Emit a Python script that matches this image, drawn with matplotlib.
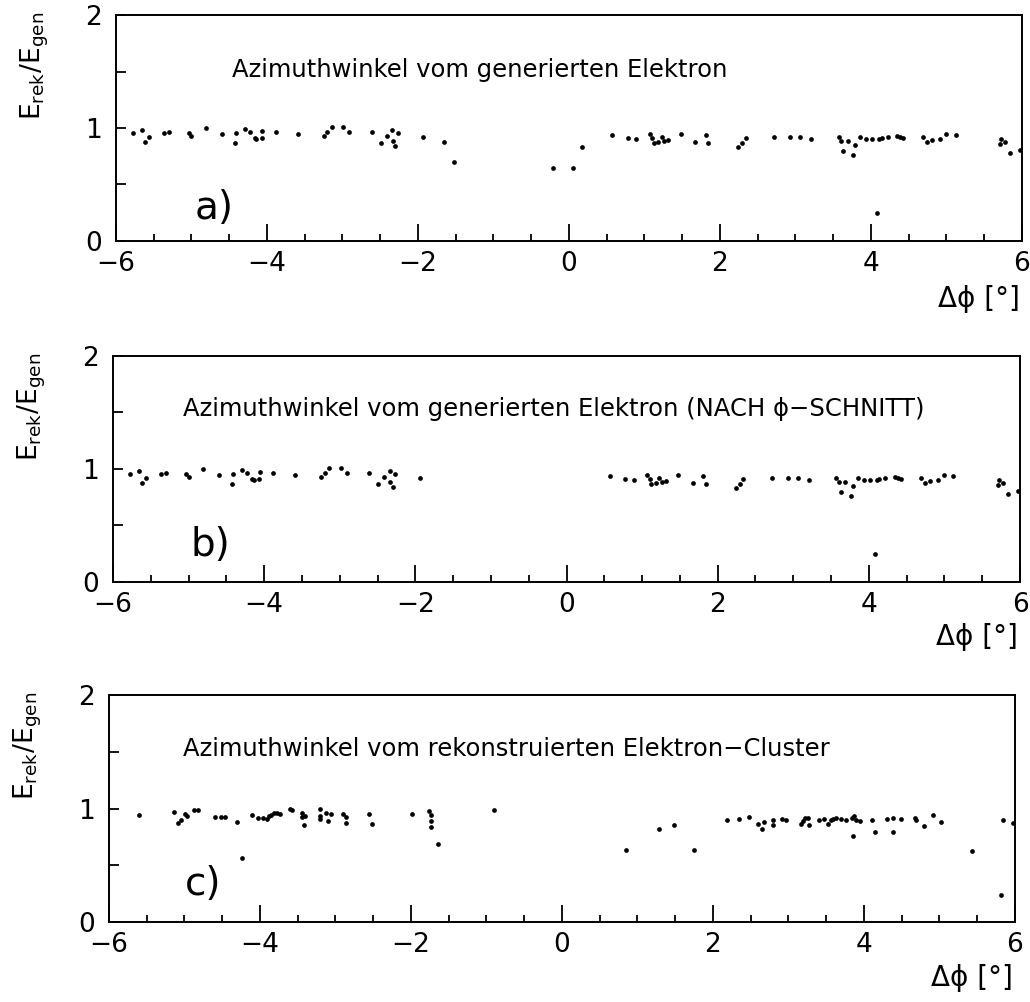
import numpy as np
import matplotlib
matplotlib.use('Agg')
import matplotlib.pyplot as plt
import matplotlib.transforms as mtransforms
from matplotlib.ticker import MultipleLocator

plt.rcParams['font.family'] = ['DejaVu Sans']

# a) azimuth of generated electron
phi_a = [-5.77, -5.66, -5.62, -5.56, -5.36, -5.30, -5.03, -5.00, -4.81, -4.60,
         -4.43, -4.41, -4.29, -4.23, -4.16, -4.14, -4.07, -4.06, -3.88, -3.59,
         -3.25, -3.20, -3.14, -2.99, -2.91, -2.61, -2.49, -2.41, -2.34, -2.33,
         -2.30, -2.27, -1.94, -1.65, -1.52, -0.21, 0.05, 0.17, 0.57, 0.78,
         0.89, 1.07, 1.10, 1.12, 1.18, 1.23, 1.26, 1.31, 1.48, 1.67,
         1.81, 1.84, 2.24, 2.29, 2.34, 2.72, 2.93, 3.06, 3.21, 3.57,
         3.60, 3.63, 3.69, 3.76, 3.79, 3.85, 3.94, 4.01, 4.08, 4.11,
         4.14, 4.22, 4.35, 4.38, 4.42, 4.69, 4.74, 4.81, 4.92, 5.00,
         5.12, 5.72, 5.71, 5.78, 5.84, 5.98]
ratio_a = [0.953, 0.982, 0.879, 0.923, 0.953, 0.967, 0.958, 0.929, 0.997, 0.947,
           0.864, 0.958, 0.988, 0.967, 0.914, 0.900, 0.909, 0.973, 0.967, 0.947,
           0.929, 0.967, 1.006, 1.012, 0.965, 0.965, 0.864, 0.929, 0.982, 0.885,
           0.841, 0.953, 0.923, 0.879, 0.696, 0.649, 0.649, 0.835, 0.938, 0.909,
           0.903, 0.947, 0.909, 0.870, 0.879, 0.923, 0.888, 0.894, 0.944, 0.879,
           0.938, 0.864, 0.829, 0.870, 0.909, 0.923, 0.923, 0.923, 0.906, 0.923,
           0.888, 0.799, 0.888, 0.761, 0.847, 0.918, 0.900, 0.900, 0.245, 0.900,
           0.912, 0.923, 0.929, 0.923, 0.912, 0.923, 0.879, 0.894, 0.903, 0.944,
           0.938, 0.903, 0.856, 0.873, 0.781, 0.805]

# b) same events after the phi cut
phi_cut_lo, phi_cut_hi = -1.9, 0.5

# c) azimuth of reconstructed electron cluster
phi_c = [-5.60, -5.14, -5.08, -5.05, -4.99, -4.96, -4.88, -4.82, -4.60, -4.52,
         -4.46, -4.31, -4.24, -4.10, -4.02, -3.96, -3.91, -3.88, -3.85, -3.81,
         -3.78, -3.74, -3.60, -3.57, -3.44, -3.41, -3.44, -3.42, -3.20, -3.21,
         -3.21, -3.13, -3.10, -3.06, -2.90, -2.86, -2.86, -2.56, -2.52, -1.99,
         -1.76, -1.74, -1.73, -1.74, -1.64, -0.90, 0.85, 1.29, 1.48, 1.75,
         2.19, 2.34, 2.48, 2.60, 2.65, 2.67, 2.80, 2.80, 2.91, 2.97,
         3.16, 3.19, 3.22, 3.26, 3.27, 3.41, 3.47, 3.53, 3.56, 3.59,
         3.63, 3.69, 3.76, 3.84, 3.87, 3.85, 3.90, 3.95, 4.10, 4.15,
         4.30, 4.38, 4.38, 4.49, 4.68, 4.69, 4.80, 4.92, 5.02, 5.43,
         5.81, 5.84, 5.97]
ratio_c = [0.946, 0.969, 0.875, 0.896, 0.955, 0.931, 0.990, 0.990, 0.925, 0.925,
           0.925, 0.881, 0.566, 0.940, 0.920, 0.920, 0.911, 0.931, 0.946, 0.960,
           0.964, 0.949, 0.993, 0.990, 0.960, 0.931, 0.925, 0.858, 0.999, 0.934,
           0.905, 0.960, 0.890, 0.955, 0.955, 0.925, 0.875, 0.955, 0.867, 0.955,
           0.978, 0.940, 0.890, 0.837, 0.690, 0.990, 0.631, 0.823, 0.858, 0.631,
           0.896, 0.911, 0.925, 0.867, 0.823, 0.881, 0.896, 0.852, 0.911, 0.902,
           0.867, 0.890, 0.920, 0.920, 0.852, 0.902, 0.911, 0.867, 0.896, 0.911,
           0.916, 0.911, 0.896, 0.920, 0.934, 0.757, 0.902, 0.887, 0.896, 0.793,
           0.911, 0.916, 0.793, 0.911, 0.920, 0.896, 0.843, 0.946, 0.881, 0.625,
           0.234, 0.896, 0.876]

titles = ['Azimuthwinkel vom generierten Elektron',
          'Azimuthwinkel vom generierten Elektron (NACH \u03d5\u2212SCHNITT)',
          'Azimuthwinkel vom rekonstruierten Elektron\u2212Cluster']
tags = ['a)', 'b)', 'c)']
xtick_vals = [-6, -4, -2, 0, 2, 4, 6]
xtick_labels = ['\u22126', '\u22124', '\u22122', '0', '2', '4', '6']

pa = np.array(phi_a)
ra = np.array(ratio_a)
keep = (pa < phi_cut_lo) | (pa > phi_cut_hi)
series = [(pa, ra), (pa[keep], ra[keep]), (np.array(phi_c), np.array(ratio_c))]

fig = plt.figure(figsize=(10.30, 10.02), dpi=100)
rects = [[0.1126, 0.7595, 0.8796, 0.2255],
         [0.1097, 0.4192, 0.8806, 0.2255],
         [0.1058, 0.0798, 0.8796, 0.2265]]
title_pos = [(0.128, 0.757), (0.077, 0.765), (0.082, 0.762)]
tag_pos = [(0.087, 0.146), (0.085, 0.164), (0.084, 0.167)]
xlab_y = [-0.255, -0.242, -0.245]

# nudge the y "0" label up a little so it clears the "-6" below it
nudge = mtransforms.ScaledTranslation(0, 5 / 72, fig.dpi_scale_trans)

for i in range(3):
    ax = fig.add_axes(rects[i])
    x, y = series[i]
    ax.plot(x, y, 'o', color='black', ms=3.4, mew=0)
    ax.set_xlim(-6, 6)
    ax.set_ylim(0, 2)
    ax.set_xticks(xtick_vals)
    ax.set_xticklabels(xtick_labels)
    ax.xaxis.set_minor_locator(MultipleLocator(0.5))
    ax.yaxis.set_major_locator(MultipleLocator(1))
    ax.yaxis.set_minor_locator(MultipleLocator(0.5))
    ax.tick_params(axis='x', which='major', direction='in', length=12, width=1.3,
                   labelsize=19, pad=7)
    ax.tick_params(axis='x', which='minor', direction='in', length=5, width=1.3)
    ax.tick_params(axis='y', which='both', direction='in', length=7, width=1.3,
                   labelsize=19, pad=10)
    fig.canvas.draw()
    lab0 = ax.get_yticklabels()[0]
    lab0.set_transform(lab0.get_transform() + nudge)
    for s in ax.spines.values():
        s.set_linewidth(1.4)
    ax.text(title_pos[i][0], title_pos[i][1], titles[i], transform=ax.transAxes,
            fontsize=17.5, va='center', ha='left')
    ax.text(tag_pos[i][0], tag_pos[i][1], tags[i], transform=ax.transAxes,
            fontsize=28, va='center', ha='left')
    ax.text(0.998, xlab_y[i], '\u0394\u03d5 [\u00b0]', transform=ax.transAxes,
            fontsize=20, va='center', ha='right')
    ax.text(-0.089, 0.775, r'$\mathregular{E_{rek}/E_{gen}}$', transform=ax.transAxes,
            fontsize=19, rotation=90, va='center', ha='center')

fig.savefig('out.png', dpi=100)
